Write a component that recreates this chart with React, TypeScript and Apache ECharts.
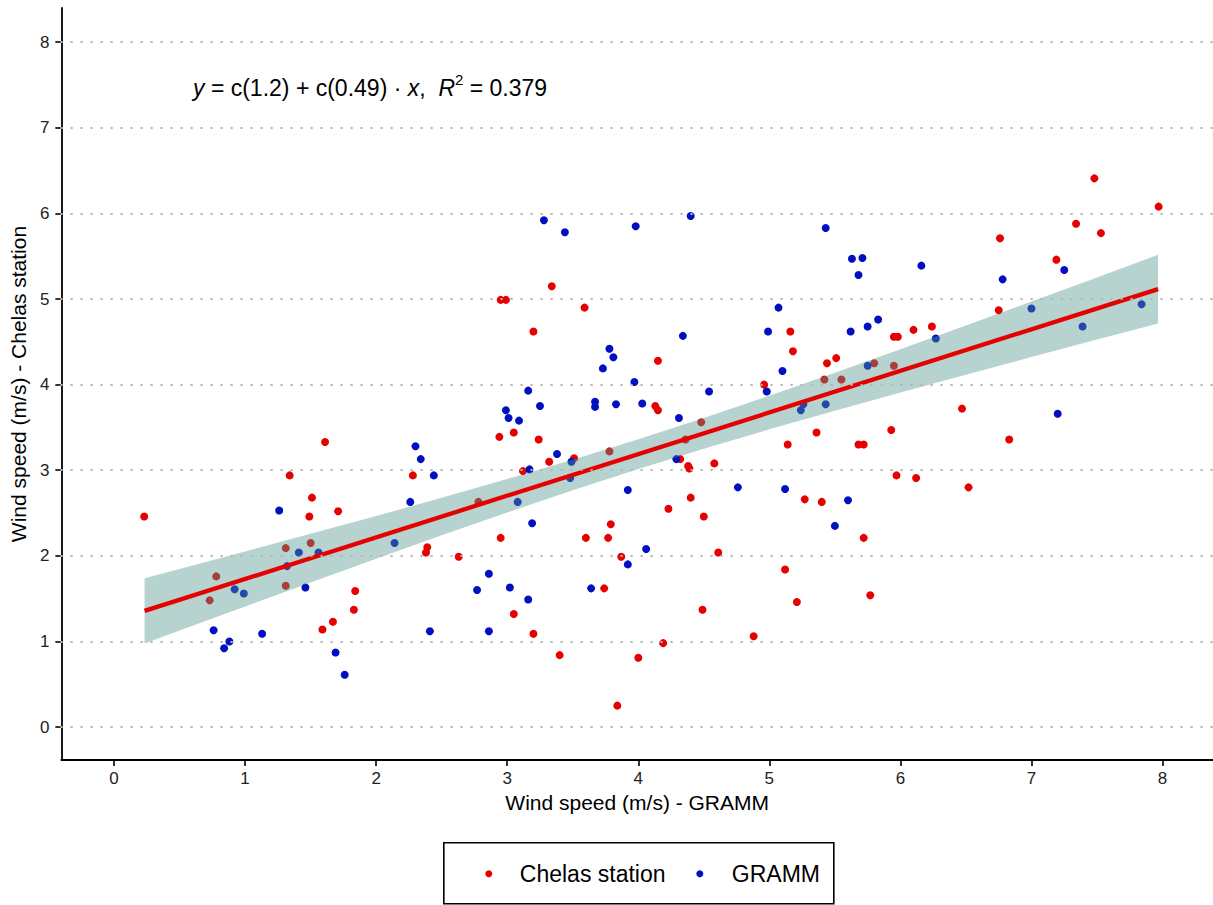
import React, { useEffect, useRef } from "react";
import * as echarts from "echarts";

const FONT = "'Liberation Sans', Arial, Helvetica, sans-serif";

const chelasStation: number[][] = [
  [1.61, 3.33], [0.23, 2.46], [1.34, 2.94], [1.51, 2.68], [1.49, 2.46], [1.71, 2.52], [1.31, 2.09], [1.5, 2.15],
  [1.31, 1.65], [0.78, 1.76], [0.73, 1.48], [1.84, 1.59], [1.83, 1.37], [1.67, 1.23], [1.59, 1.14],
  [3.34, 5.15], [2.95, 4.99], [2.99, 4.99], [3.59, 4.9], [3.2, 4.62], [4.15, 4.28], [4.13, 3.75], [4.15, 3.7],
  [2.94, 3.39], [3.05, 3.44], [3.24, 3.36], [3.32, 3.1], [3.51, 3.14], [3.78, 3.22], [3.12, 2.99],
  [2.28, 2.94], [2.78, 2.63], [2.39, 2.1], [2.38, 2.04], [2.63, 1.99], [2.95, 2.21], [3.6, 2.21], [3.77, 2.21],
  [3.79, 2.37], [3.87, 1.99], [3.05, 1.32], [3.2, 1.09], [3.74, 1.62], [3.4, 0.84], [4.0, 0.81], [3.84, 0.25],
  [5.16, 4.62], [5.18, 4.39], [5.95, 4.56], [5.98, 4.56], [6.1, 4.64], [6.24, 4.68], [5.44, 4.25], [5.51, 4.31],
  [5.8, 4.25], [5.95, 4.22], [5.42, 4.06], [5.55, 4.06], [4.96, 4.0], [4.48, 3.56], [5.36, 3.44], [5.14, 3.3],
  [5.68, 3.3], [5.72, 3.3], [5.93, 3.47], [4.36, 3.36], [4.32, 3.13], [4.38, 3.05], [4.39, 3.02], [4.58, 3.08],
  [5.27, 2.66], [5.4, 2.63], [5.72, 2.21], [5.97, 2.94], [6.12, 2.91], [4.23, 2.55], [4.4, 2.68], [4.5, 2.46],
  [4.61, 2.04], [5.12, 1.84], [5.77, 1.54], [5.21, 1.46], [4.49, 1.37], [4.88, 1.06], [4.19, 0.98],
  [7.48, 6.41], [7.97, 6.08], [7.34, 5.88], [7.53, 5.77], [6.76, 5.71], [7.19, 5.46], [6.75, 4.87], [6.47, 3.72],
  [6.83, 3.36], [6.52, 2.8],
];

const gramm: number[][] = [
  [1.26, 2.53], [1.41, 2.04], [1.56, 2.04], [1.32, 1.88], [1.46, 1.63], [0.92, 1.61], [0.99, 1.56], [0.76, 1.13],
  [0.84, 0.92], [0.88, 1.0], [1.13, 1.09], [1.69, 0.87], [1.76, 0.61],
  [3.28, 5.92], [3.44, 5.78], [3.98, 5.85], [3.78, 4.42], [3.81, 4.32], [3.73, 4.19], [3.97, 4.03], [3.16, 3.93],
  [2.99, 3.7], [3.01, 3.61], [3.25, 3.75], [3.09, 3.58], [3.67, 3.8], [3.67, 3.74], [3.83, 3.77], [4.03, 3.78],
  [2.3, 3.28], [2.34, 3.13], [3.38, 3.19], [3.49, 3.1], [3.17, 3.01], [2.44, 2.94], [2.26, 2.63], [3.08, 2.63],
  [3.19, 2.38], [3.48, 2.91], [3.92, 2.77], [2.14, 2.15], [3.92, 1.9], [4.06, 2.08], [2.86, 1.79], [2.77, 1.6],
  [3.02, 1.63], [3.16, 1.49], [2.41, 1.12], [2.86, 1.12], [3.64, 1.62],
  [4.4, 5.97], [5.43, 5.83], [5.63, 5.47], [5.71, 5.48], [5.68, 5.28], [6.16, 5.39], [5.07, 4.9], [4.99, 4.62],
  [4.34, 4.57], [5.62, 4.62], [5.75, 4.68], [5.83, 4.76], [6.27, 4.54], [5.1, 4.16], [5.75, 4.22], [4.98, 3.92],
  [4.54, 3.92], [4.31, 3.61], [5.24, 3.7], [5.26, 3.77], [5.43, 3.77], [4.29, 3.13], [4.76, 2.8], [5.12, 2.78],
  [5.6, 2.65], [5.5, 2.35],
  [7.25, 5.34], [6.78, 5.23], [7.0, 4.89], [7.39, 4.68], [7.84, 4.94], [7.2, 3.66],
];

// fitted regression line end points
const fitLine: number[][] = [
  [0.233, 1.357],
  [7.966, 5.116],
];

// confidence band
const bandX = [0.233, 0.5, 1, 1.5, 2, 2.5, 3, 3.5, 4, 4.5, 5, 5.5, 6, 6.5, 7, 7.5, 7.966];
const bandLower = [0.976, 1.127, 1.409, 1.689, 1.967, 2.24, 2.507, 2.766, 3.015, 3.252, 3.478, 3.696, 3.908, 4.116, 4.322, 4.526, 4.714];
const bandUpper = [1.738, 1.847, 2.051, 2.257, 2.465, 2.678, 2.897, 3.124, 3.361, 3.61, 3.87, 4.138, 4.412, 4.69, 4.97, 5.252, 5.518];

const xTicks = [0, 1, 2, 3, 4, 5, 6, 7, 8];
const yTicks = [0, 1, 2, 3, 4, 5, 6, 7, 8];

const legendNames = ["Chelas station", "GRAMM"];

const RED = "#e60000";
const BLUE = "#0010c0";

export default function App() {
  const ref = useRef<HTMLDivElement>(null);

  useEffect(() => {
    if (!ref.current) return;
    const chart = echarts.init(ref.current, null, { renderer: "svg" });
    const axisCommon = {
      type: "value" as const,
      axisLine: { show: true, onZero: false, lineStyle: { color: "#000", width: 1.8 } },
      axisTick: { show: true, length: 6, lineStyle: { color: "#000", width: 1.6 } },
      splitLine: { show: false },
      nameTextStyle: { fontFamily: FONT, fontSize: 21, color: "#000" },
    };
    chart.setOption({
      animation: false,
      backgroundColor: "#fff",
      grid: { left: 61, right: 0, top: 8, bottom: 145, containLabel: false },
      xAxis: {
        ...axisCommon,
        min: -0.402,
        max: 8.385,
        axisTick: { ...axisCommon.axisTick, customValues: xTicks },
        axisLabel: { customValues: xTicks, fontFamily: FONT, fontSize: 17, color: "#222", margin: 10 },
        name: "Wind speed (m/s) - GRAMM",
        nameLocation: "middle",
        nameGap: 32,
      },
      yAxis: {
        ...axisCommon,
        min: -0.385,
        max: 8.4,
        axisTick: { ...axisCommon.axisTick, customValues: yTicks },
        axisLabel: { customValues: yTicks, fontFamily: FONT, fontSize: 17, color: "#222", margin: 12 },
        name: "Wind speed (m/s) - Chelas station",
        nameLocation: "middle",
        nameGap: 30,
      },
      graphic: [
        {
          type: "text",
          left: 193,
          top: 72,
          style: {
            text: "{n|}{i|y}{n| = c(1.2) + c(0.49) · }{i|x}{n|,  }{i|R}{s|2}{n| = 0.379}",
            fontFamily: FONT,
            fontSize: 23,
            fill: "#000",
            rich: {
              n: { fontFamily: FONT, fontSize: 23, lineHeight: 32, verticalAlign: "middle", fill: "#000" },
              i: { fontStyle: "italic", fontFamily: FONT, fontSize: 23, lineHeight: 32, verticalAlign: "middle", fill: "#000" },
              s: { fontFamily: FONT, fontSize: 15, lineHeight: 15, verticalAlign: "top", fill: "#000" },
            },
          },
        },
        {
          type: "group",
          left: 443,
          top: 842,
          children: [
            {
              type: "rect",
              shape: { x: 0, y: 0, width: 390, height: 61 },
              style: { fill: "#fff", stroke: "#000", lineWidth: 1.6 },
            },
            { type: "circle", shape: { cx: 45, cy: 31, r: 3.5 }, style: { fill: RED } },
            {
              type: "text",
              x: 76,
              y: 31,
              style: { text: legendNames[0], fontFamily: FONT, fontSize: 23, fill: "#000", verticalAlign: "middle" },
            },
            { type: "circle", shape: { cx: 256, cy: 31, r: 3.5 }, style: { fill: BLUE } },
            {
              type: "text",
              x: 288,
              y: 31,
              style: { text: legendNames[1], fontFamily: FONT, fontSize: 23, fill: "#000", verticalAlign: "middle" },
            },
          ],
        },
      ],
      series: [
        {
          type: "scatter",
          name: "grid",
          data: [],
          z: 1,
          silent: true,
          markLine: {
            silent: true,
            symbol: ["none", "none"],
            label: { show: false },
            lineStyle: { type: [0.5, 9.5], color: "#b4b4b4", width: 2.2, cap: "round" },
            emphasis: { disabled: true },
            data: yTicks.map((v) => ({ yAxis: v })),
          },
        },
        {
          type: "scatter",
          name: legendNames[0],
          data: chelasStation,
          symbol: "circle",
          symbolSize: 8,
          itemStyle: { color: RED, opacity: 1 },
          z: 2,
        },
        {
          type: "scatter",
          name: legendNames[1],
          data: gramm,
          symbol: "circle",
          symbolSize: 8,
          itemStyle: { color: BLUE, opacity: 1 },
          z: 2,
        },
        {
          type: "custom",
          name: "band",
          silent: true,
          z: 3,
          data: [0],
          renderItem: (params: any, api: any) => {
            if (params.dataIndex !== 0) return null;
            const up = bandX.map((x, i) => api.coord([x, bandUpper[i]]));
            const lo = bandX.map((x, i) => api.coord([x, bandLower[i]])).reverse();
            return {
              type: "polygon",
              shape: { points: up.concat(lo) },
              style: { fill: "rgba(80,150,140,0.42)", stroke: "none" },
            };
          },
        },
        {
          type: "line",
          name: "fit",
          data: fitLine,
          showSymbol: false,
          symbol: "none",
          silent: true,
          z: 4,
          lineStyle: { color: RED, width: 4.3 },
        },
      ],
    });
    return () => chart.dispose();
  }, []);

  return (
    <div
      ref={ref}
      style={{ position: "fixed", left: 0, top: 0, width: 1213, height: 905, background: "#fff" }}
    />
  );
}
